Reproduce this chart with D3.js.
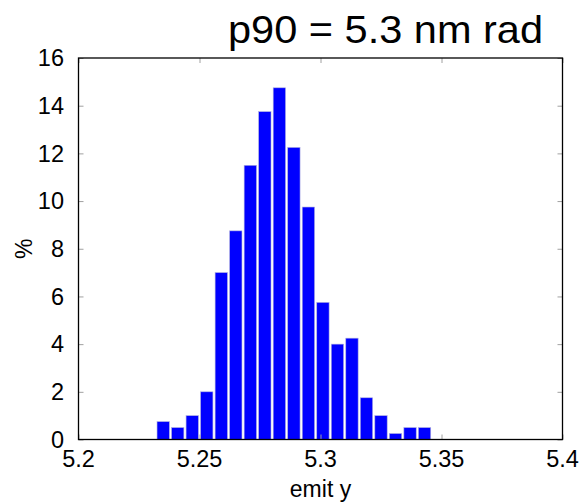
<!DOCTYPE html>
<html lang="en">
  <head>
    <meta charset="utf-8">
    <title>emit y histogram</title>
    <script src="https://d3js.org/d3.v7.min.js"></script>
    <style>
      body { margin: 0; background: #fff; }
      text { font-family: "Liberation Sans", Arial, sans-serif; fill: #000; }
    </style>
  </head>
  <body>
    <script>
    let w = 583;
    let h = 503;

    // bin centres (emit y) and percentages
    let binCenters = [5.235, 5.241, 5.247, 5.253, 5.259, 5.265, 5.271, 5.277, 5.283, 5.289,
                      5.295, 5.301, 5.307, 5.313, 5.319, 5.325, 5.331, 5.337, 5.343];
    let percents = [0.75, 0.5, 1.0, 2.0, 7.0, 8.75, 11.5, 13.75, 14.75, 12.25,
                    9.75, 5.75, 4.0, 4.25, 1.75, 1.0, 0.25, 0.5, 0.5];
    let binWidth = 0.006;
    let xTicks = [5.2, 5.25, 5.3, 5.35, 5.4];
    let yTicks = [0, 2, 4, 6, 8, 10, 12, 14, 16];

    let pLeft = 78.5, pRight = 562.5, pTop = 58, pBottom = 439.5;

    let svg = d3.select("body")
                .append("svg")
                .attr("width", w)
                .attr("height", h);

    let xScale = d3.scaleLinear().domain([5.2, 5.4]).range([pLeft, pRight]);
    let yScale = d3.scaleLinear().domain([0, 16]).range([pBottom, pTop]);

    let barW = (xScale(5.2 + binWidth) - xScale(5.2)) * 0.85;

    // bars
    svg.selectAll("rect.bar")
      .data(percents)
      .enter()
      .append("rect")
      .attr("class", "bar")
      .attr("x", (d, i) => xScale(binCenters[i]) - barW / 2)
      .attr("width", barW)
      .attr("y", d => yScale(d))
      .attr("height", d => yScale(0) - yScale(d))
      .attr("fill", "#0000ff")
      .attr("stroke", "#b0b0e0")
      .attr("stroke-width", 0.6);

    // inner tick marks (gnuplot style, both sides)
    let tickLen = 5;
    let xAxisB = d3.axisBottom(xScale).tickValues(xTicks).tickSize(-tickLen).tickFormat("");
    let xAxisT = d3.axisTop(xScale).tickValues(xTicks).tickSize(-tickLen).tickFormat("");
    let yAxisL = d3.axisLeft(yScale).tickValues(yTicks).tickSize(-tickLen).tickFormat("");
    let yAxisR = d3.axisRight(yScale).tickValues(yTicks).tickSize(-tickLen).tickFormat("");

    [[xAxisB, `translate(0,${pBottom})`], [xAxisT, `translate(0,${pTop})`],
     [yAxisL, `translate(${pLeft},0)`], [yAxisR, `translate(${pRight},0)`]].forEach(([ax, tr]) => {
      let g = svg.append("g").attr("transform", tr).call(ax);
      g.select(".domain").remove();
      g.selectAll("line").attr("stroke", "#a0a0a0").attr("stroke-width", 1);
    });

    // frame
    svg.append("rect")
      .attr("x", pLeft).attr("y", pTop)
      .attr("width", pRight - pLeft).attr("height", pBottom - pTop)
      .attr("fill", "none")
      .attr("stroke", "#000")
      .attr("stroke-width", 1.3);

    // tick labels
    svg.selectAll("text.xt")
      .data(xTicks)
      .enter()
      .append("text")
      .attr("class", "xt")
      .attr("x", d => xScale(d))
      .attr("y", 467)
      .attr("text-anchor", "middle")
      .attr("font-size", 23.5)
      .text(d => d);

    svg.selectAll("text.yt")
      .data(yTicks)
      .enter()
      .append("text")
      .attr("class", "yt")
      .attr("x", 64)
      .attr("y", d => yScale(d) + 8.3)
      .attr("text-anchor", "end")
      .attr("font-size", 23.5)
      .text(d => d);

    // axis labels
    svg.append("text")
      .attr("x", (pLeft + pRight) / 2)
      .attr("y", 497)
      .attr("text-anchor", "middle")
      .attr("font-size", 23)
      .text("emit y");

    svg.append("text")
      .attr("transform", `translate(32,${(pTop + pBottom) / 2}) rotate(-90)`)
      .attr("text-anchor", "middle")
      .attr("font-size", 23)
      .text("%");

    // title
    svg.append("text")
      .attr("x", 228)
      .attr("y", 43)
      .attr("font-size", 39)
      .attr("textLength", 315)
      .attr("lengthAdjust", "spacingAndGlyphs")
      .text("p90 = 5.3 nm rad");
    </script>
  </body>
</html>
